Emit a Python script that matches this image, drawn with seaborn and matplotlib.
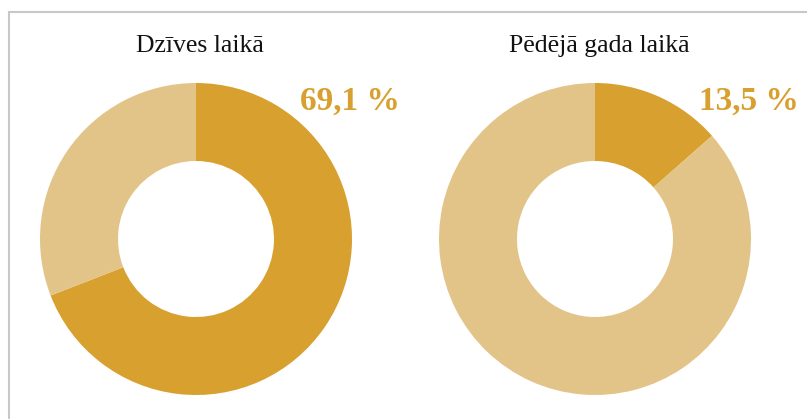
import matplotlib
matplotlib.use('Agg')
import matplotlib.pyplot as plt
import seaborn as sns

titles = ['Dzīves laikā', 'Pēdējā gada laikā']
shares = [69.1, 13.5]
labels = ['69,1 %', '13,5 %']
dark = '#D8A02F'
light = '#E3C488'

sns.set_style('white')
plt.rcParams['font.family'] = ['Liberation Serif', 'DejaVu Serif']

fig = plt.figure(figsize=(8.07, 4.19), dpi=100)

# pelēkais rāmis (tikai kreisā un augšējā mala redzamas)
fig.patches.append(plt.Rectangle((8.5 / 807, -0.1), 1.2, 1.1 - 12.5 / 419,
                                 transform=fig.transFigure, fill=False,
                                 edgecolor='#C8C8C8', linewidth=1.5))

lefts = [40 / 807, 439 / 807]
for left, title, share, lab in zip(lefts, titles, shares, labels):
    ax = fig.add_axes([left, 24 / 419, 312 / 807, 312 / 419])
    ax.pie([share, 100 - share], colors=[dark, light], startangle=90,
           counterclock=False, radius=1,
           wedgeprops=dict(width=0.5, linewidth=0))
    ax.set_xlim(-1, 1)
    ax.set_ylim(-1, 1)
    ax.set_aspect('equal')
    ax.axis('off')
    cx = left + 160 / 807
    fig.text(cx, 1 - 52 / 419, title, ha='center', va='baseline',
             fontsize=18.5, color='#111111')
    fig.text(left + 260 / 807, 1 - 110 / 419, lab, ha='left', va='baseline',
             fontsize=24, fontweight='bold', color=dark)

fig.savefig('out.png', dpi=100)
